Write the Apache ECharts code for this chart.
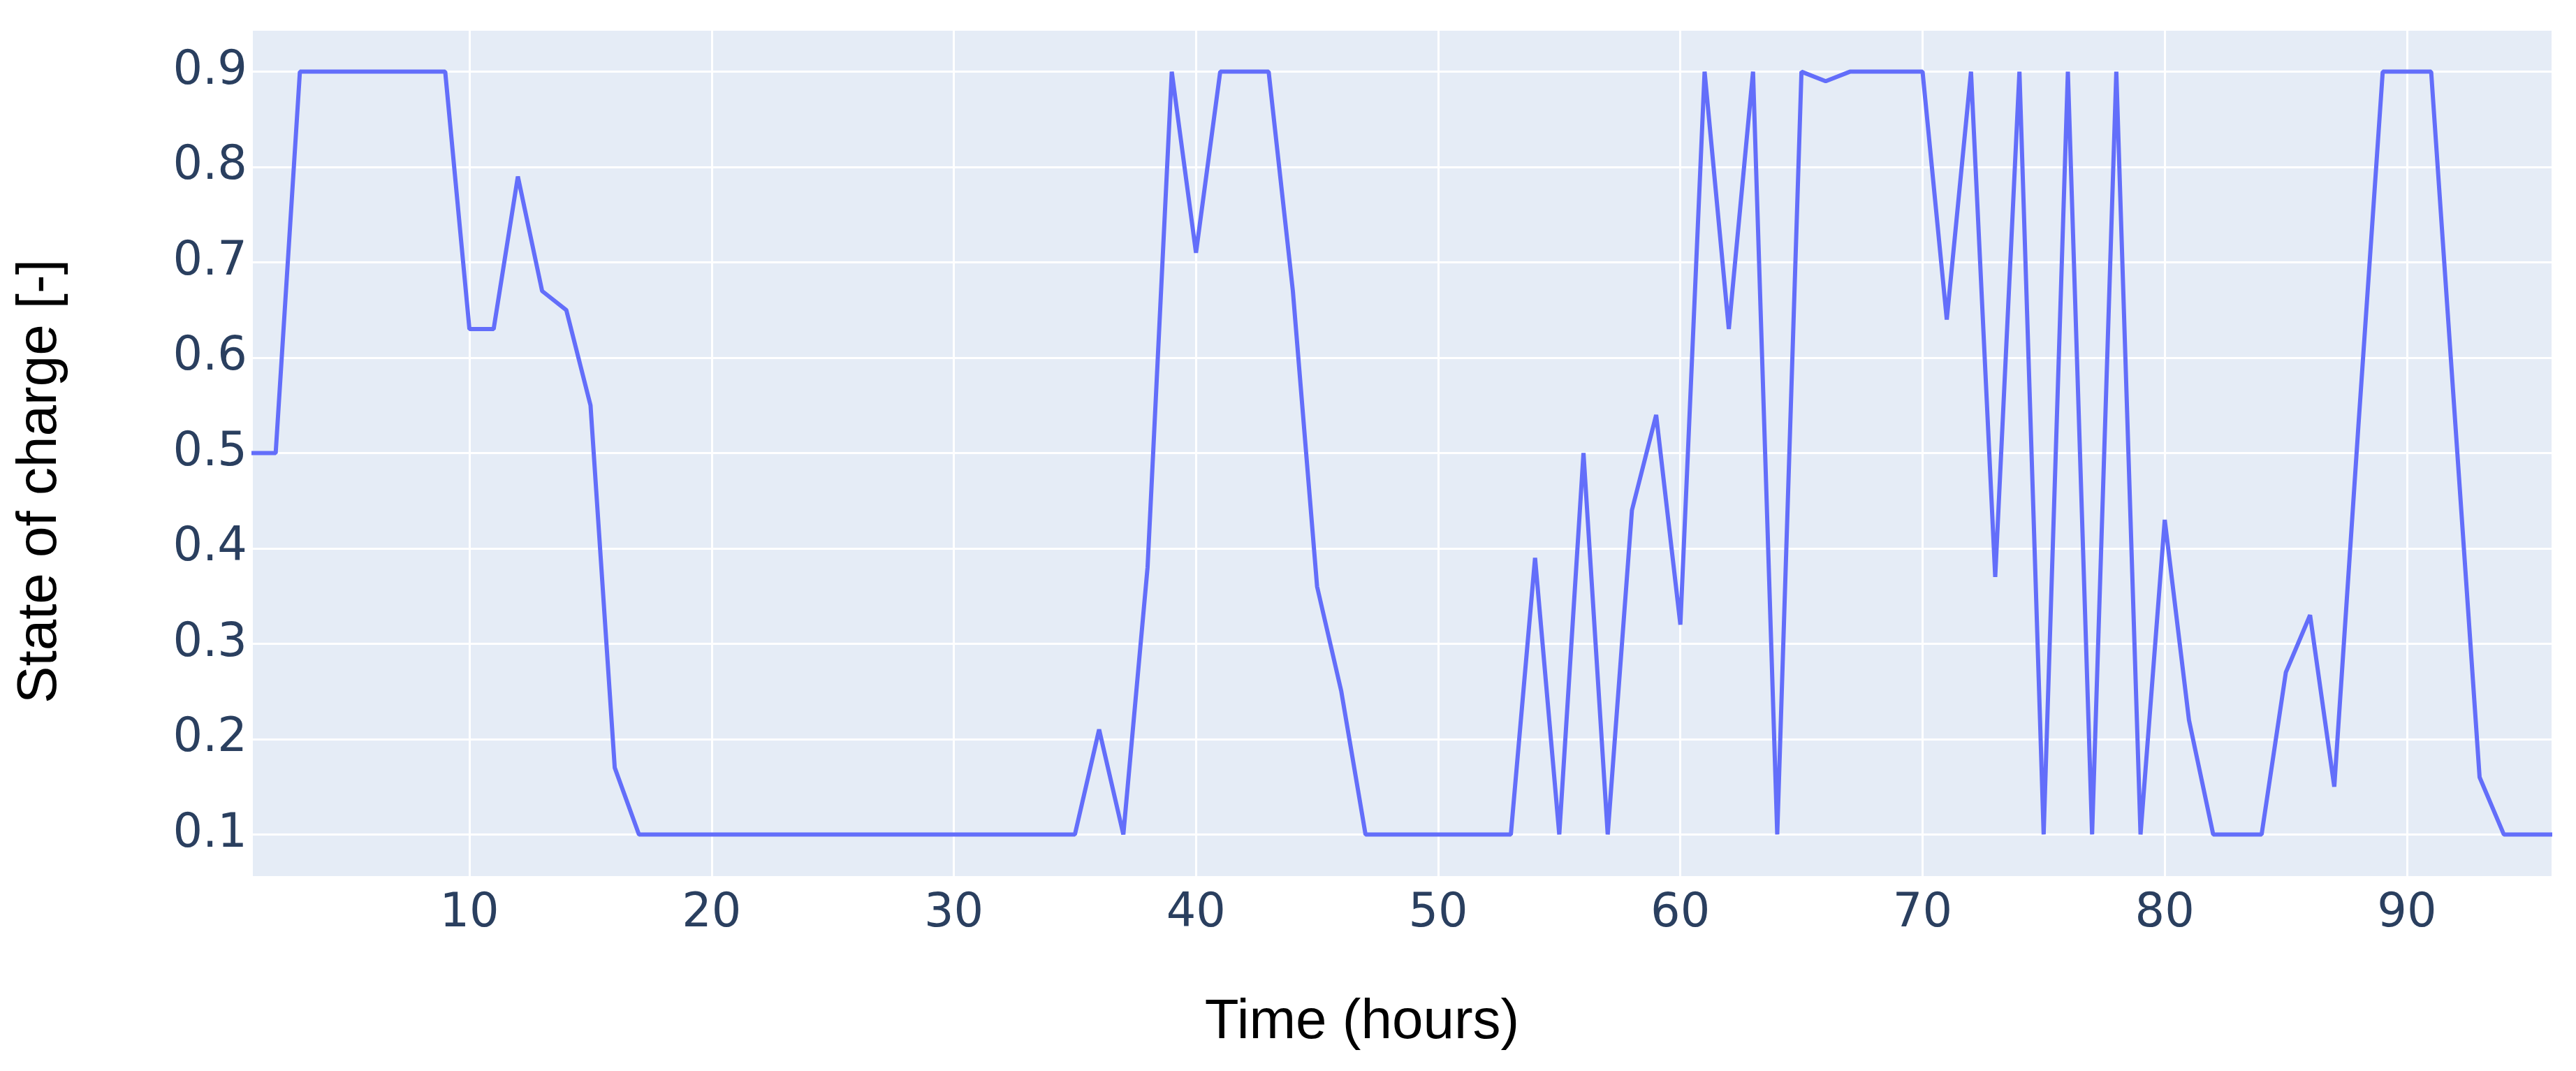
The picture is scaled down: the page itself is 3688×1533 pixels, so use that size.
<!DOCTYPE html>
<html>
<head>
<meta charset="utf-8">
<title>State of charge</title>
<script src="https://cdn.jsdelivr.net/npm/echarts@6/dist/echarts.min.js"></script>
<style>
  html, body { margin: 0; padding: 0; background: #fff; }
  #chart { width: 3688px; height: 1533px; }
</style>
</head>
<body>
<div id="chart"></div>
<script>
// hours 1..96
const hours = [
  1, 2, 3, 4, 5, 6, 7, 8, 9, 10, 11, 12, 13, 14, 15, 16,
  17, 18, 19, 20, 21, 22, 23, 24, 25, 26, 27, 28, 29, 30, 31, 32,
  33, 34, 35, 36, 37, 38, 39, 40, 41, 42, 43, 44, 45, 46, 47, 48,
  49, 50, 51, 52, 53, 54, 55, 56, 57, 58, 59, 60, 61, 62, 63, 64,
  65, 66, 67, 68, 69, 70, 71, 72, 73, 74, 75, 76, 77, 78, 79, 80,
  81, 82, 83, 84, 85, 86, 87, 88, 89, 90, 91, 92, 93, 94, 95, 96
]

// state of charge
const soc = [
  0.5, 0.5, 0.9, 0.9, 0.9, 0.9, 0.9, 0.9, 0.9, 0.63, 0.63, 0.79, 0.67, 0.65, 0.55, 0.17,
  0.1, 0.1, 0.1, 0.1, 0.1, 0.1, 0.1, 0.1, 0.1, 0.1, 0.1, 0.1, 0.1, 0.1, 0.1, 0.1,
  0.1, 0.1, 0.1, 0.21, 0.1, 0.38, 0.9, 0.71, 0.9, 0.9, 0.9, 0.67, 0.36, 0.25, 0.1, 0.1,
  0.1, 0.1, 0.1, 0.1, 0.1, 0.39, 0.1, 0.5, 0.1, 0.44, 0.54, 0.32, 0.9, 0.63, 0.9, 0.1,
  0.9, 0.89, 0.9, 0.9, 0.9, 0.9, 0.64, 0.9, 0.37, 0.9, 0.1, 0.9, 0.1, 0.9, 0.1, 0.43,
  0.22, 0.1, 0.1, 0.1, 0.27, 0.33, 0.15, 0.53, 0.9, 0.9, 0.9, 0.53, 0.16, 0.1, 0.1, 0.1
]

const xTitle = 'Time (hours)'
const yTitle = 'State of charge [-]'

const tickFont = {
    fontFamily: 'DejaVu Sans',
    fontSize: 67,
    color: '#2a3f5f'
}

const chart = echarts.init(document.getElementById('chart'), null, { renderer: 'canvas' })

const option = {
    backgroundColor: '#ffffff',
    animation: false,
    grid: {
        left: 360,
        right: 34,
        top: 42,
        bottom: 278,
        show: true,
        backgroundColor: '#E5ECF6',
        borderWidth: 0
    },
    xAxis: {
        type: 'value',
        min: 1,
        max: 96,
        splitNumber: 10,
        axisLine: { show: false },
        axisTick: { show: false },
        axisLabel: Object.assign({ margin: 20, showMinLabel: false, showMaxLabel: false }, tickFont),
        splitLine: { show: true, lineStyle: { color: '#ffffff', width: 3 } }
    },
    yAxis: {
        type: 'value',
        min: 0.0556,
        max: 0.9444,
        splitNumber: 9,
        axisLine: { show: false },
        axisTick: { show: false },
        axisLabel: Object.assign({ margin: 6, showMinLabel: false, showMaxLabel: false }, tickFont),
        splitLine: { show: true, lineStyle: { color: '#ffffff', width: 3 } }
    },
    graphic: [
        {
            type: 'text',
            x: 1950,
            y: 1464,
            style: {
                text: xTitle,
                font: '80px "Liberation Sans", Arial, sans-serif',
                fill: '#000000',
                textAlign: 'center',
                textVerticalAlign: 'middle'
            }
        },
        {
            type: 'text',
            x: 58,
            y: 689,
            rotation: Math.PI / 2,
            style: {
                text: yTitle,
                font: '80px "Liberation Sans", Arial, sans-serif',
                fill: '#000000',
                textAlign: 'center',
                textVerticalAlign: 'middle'
            }
        }
    ],
    series: [
        {
            type: 'line',
            data: hours.map((h, i) => [h, soc[i]]),
            showSymbol: false,
            lineStyle: { color: '#636efa', width: 6 },
            itemStyle: { color: '#636efa' }
        }
    ]
}

chart.setOption(option)
</script>
</body>
</html>
